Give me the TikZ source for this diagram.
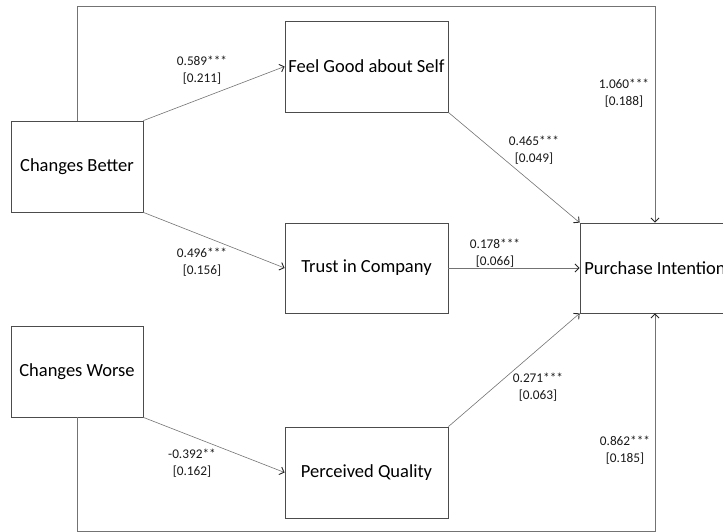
\documentclass[tikz,border=0pt]{standalone}
\usepackage{fontspec}
\setmainfont{Carlito}
\usetikzlibrary{arrows.meta}
\begin{document}
\begin{tikzpicture}[x=1pt,y=-1pt,
  box/.style={draw=black!70, line width=0.8pt, fill=white, inner sep=0pt,
    minimum height=91pt, font=\fontsize{18.5}{21}\selectfont},
  smallbox/.style={box, minimum width=132pt},
  bigbox/.style={box, minimum width=163pt},
  conn/.style={draw=black!55, line width=0.6pt,
    -{Straight Barb[length=4pt,width=8pt,line width=0.9pt,color=black!85]}},
  lab/.style={align=center, inner sep=0pt, font=\fontsize{13.3}{16.5}\selectfont, text=black!90}]
\useasboundingbox (0,0) rectangle (723,532);
\clip (0,0) rectangle (723,532);
\node[smallbox] (CB) at (77,166.5) {Changes Better};
\node[smallbox] (CW) at (77,371.5) {Changes Worse};
\node[bigbox] (FG) at (366.5,66.5) {Feel Good about Self};
\node[bigbox, minimum height=90pt] (TC) at (366.5,268) {Trust in Company};
\node[bigbox] (PQ) at (366.5,472.5) {Perceived Quality};
\node[box, minimum width=150pt, minimum height=90pt] (PI) at (655,268) {Purchase Intention};
\coordinate (topy) at (0,6);
\coordinate (boty) at (0,531);
\draw[conn] (CB.north east) -- (FG.west);
\draw[conn] (CB.south east) -- (TC.west);
\draw[conn] (TC.east) -- (PI.west);
\draw[conn] (FG.south east) -- (PI.north west);
\draw[conn] (PQ.north east) -- (PI.south west);
\draw[conn] (CW.south east) -- (PQ.west);
\draw[conn] (CB.north) -- (CB.north |- topy) -| (PI.north);
\draw[conn] (CW.south) -- (CW.south |- boty) -| (PI.south);
\node[lab] (l1) at (202,70) {0.589***\\{}[0.211]};
\node[lab] (l2) at (202,262) {0.496***\\{}[0.156]};
\node[lab] (l3) at (624,93) {1.060***\\{}[0.188]};
\node[lab] (l4) at (534,150) {0.465***\\{}[0.049]};
\node[lab] (l5) at (495,253) {0.178***\\{}[0.066]};
\node[lab] (l6) at (538,387) {0.271***\\{}[0.063]};
\node[lab] (l7) at (625,450) {0.862***\\{}[0.185]};
\node[lab] (l8) at (192,463) {-0.392**\\{}[0.162]};
\end{tikzpicture}
\end{document}
